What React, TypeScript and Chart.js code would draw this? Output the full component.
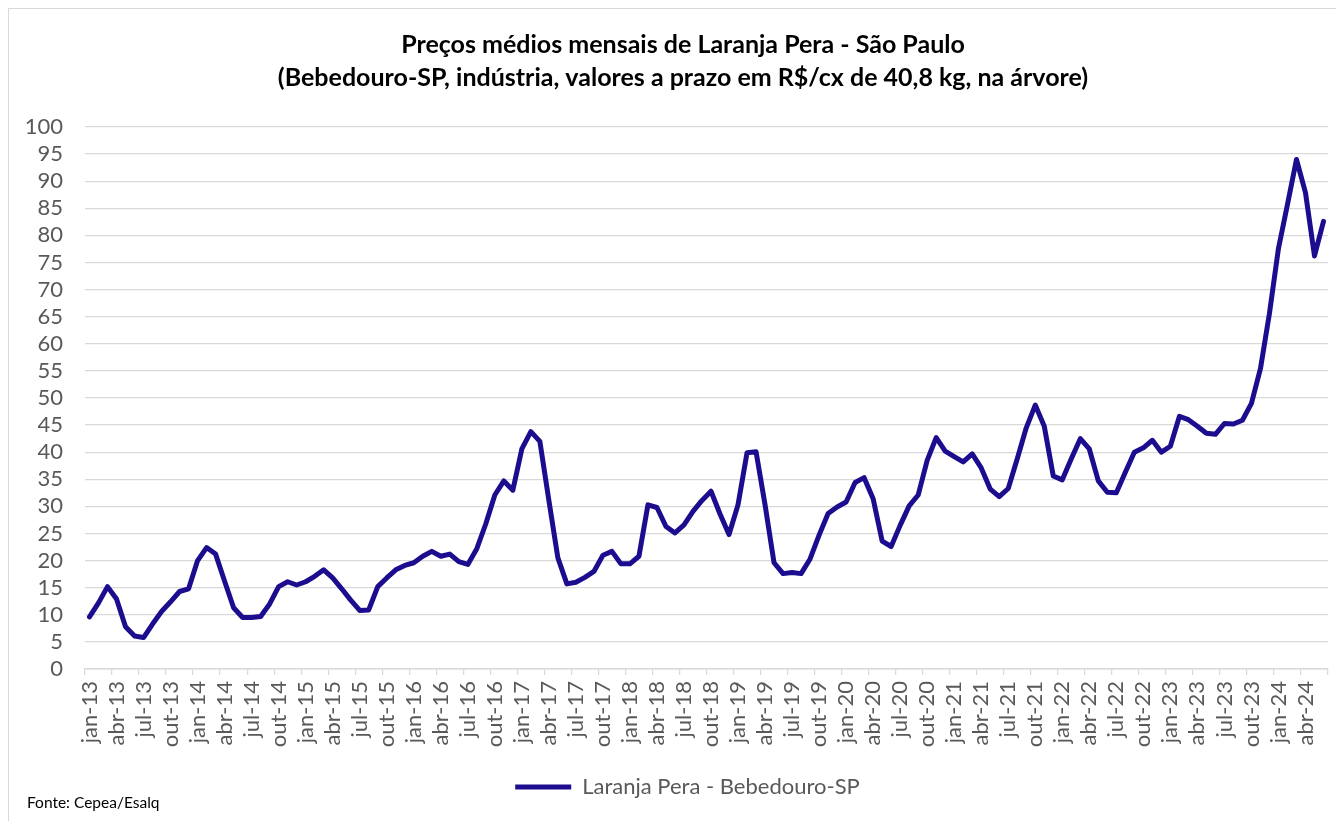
import { useEffect, useRef } from "react";
import { Chart, registerables } from "chart.js";

Chart.register(...registerables);

const TITLE_LINES = [
  "Preços médios mensais de Laranja Pera - São Paulo",
  "(Bebedouro-SP, indústria, valores a prazo em R$/cx de 40,8 kg, na árvore)",
];
const SOURCE_TEXT = "Fonte: Cepea/Esalq";
const SERIES_LABEL = "Laranja Pera - Bebedouro-SP";

const MONTHS = ["jan", "fev", "mar", "abr", "mai", "jun", "jul", "ago", "set", "out", "nov", "dez"];
const YEARS = ["13", "14", "15", "16", "17", "18", "19", "20", "21", "22", "23", "24"];

const prices2013 = [9.6, 12.2, 15.2, 12.9, 7.8, 6.1, 5.8, 8.3, 10.6, 12.4, 14.3, 14.8];
const prices2014 = [20.0, 22.4, 21.2, 16.2, 11.3, 9.5, 9.5, 9.7, 12.0, 15.2, 16.1, 15.5];
const prices2015 = [16.1, 17.1, 18.3, 16.8, 14.8, 12.7, 10.8, 10.9, 15.2, 16.8, 18.3, 19.1];
const prices2016 = [19.6, 20.8, 21.7, 20.8, 21.2, 19.8, 19.3, 22.2, 26.8, 32.1, 34.7, 33.0];
const prices2017 = [40.6, 43.8, 42.0, 31.1, 20.5, 15.7, 16.0, 16.9, 18.0, 21.0, 21.7, 19.4];
const prices2018 = [19.4, 20.8, 30.3, 29.8, 26.3, 25.1, 26.6, 29.1, 31.1, 32.8, 28.6, 24.8];
const prices2019 = [30.3, 39.9, 40.1, 30.3, 19.6, 17.6, 17.8, 17.6, 20.3, 24.7, 28.7, 29.9];
const prices2020 = [30.8, 34.4, 35.3, 31.4, 23.6, 22.6, 26.5, 30.1, 32.1, 38.5, 42.7, 40.2];
const prices2021 = [39.2, 38.2, 39.7, 37.1, 33.2, 31.8, 33.3, 38.8, 44.5, 48.7, 44.8, 35.6];
const prices2022 = [34.9, 38.8, 42.5, 40.6, 34.7, 32.6, 32.5, 36.3, 40.0, 40.8, 42.2, 40.0];
const prices2023 = [41.1, 46.6, 46.0, 44.8, 43.5, 43.3, 45.3, 45.2, 45.9, 49.0, 55.4, 65.6];
const prices2024 = [77.6, 85.7, 94.0, 87.9, 76.2, 82.6];

const prices = [
  ...prices2013, ...prices2014, ...prices2015, ...prices2016, ...prices2017, ...prices2018,
  ...prices2019, ...prices2020, ...prices2021, ...prices2022, ...prices2023, ...prices2024,
];

const categories = YEARS.flatMap((y) => MONTHS.map((m) => `${m}-${y}`)).slice(0, prices.length);

const Y_TICKS = { min: 0, max: 100, step: 5 };

const FONT = "Lato, 'Open Sans', sans-serif";
const LINE_COLOR = "#1c0d8f";
const GRID_COLOR = "#d9d9d9";
const TEXT_COLOR = "#595959";

const CANVAS_W = 1358;
const CANVAS_H = 812;
const LEGEND_SHIFT = 19;

const textPlugin = {
  id: "titleAndSource",
  afterLayout(chart: any) {
    if (chart.legend) {
      chart.legend.left += LEGEND_SHIFT;
      chart.legend.right += LEGEND_SHIFT;
    }
  },
  afterDraw(chart: any) {
    const ctx = chart.ctx as CanvasRenderingContext2D;
    ctx.save();
    ctx.fillStyle = "#000000";
    ctx.textAlign = "center";
    ctx.textBaseline = "middle";
    ctx.font = `bold 25px ${FONT}`;
    ctx.fillText(TITLE_LINES[0], 674, 36);
    ctx.fillText(TITLE_LINES[1], 674, 69);
    ctx.textAlign = "left";
    ctx.font = `15.5px ${FONT}`;
    ctx.fillText(SOURCE_TEXT, 18, 794);
    ctx.restore();
  },
};

export default function App() {
  const canvasRef = useRef<HTMLCanvasElement | null>(null);

  useEffect(() => {
    document.documentElement.style.overflow = "hidden";
    document.body.style.overflow = "hidden";
    const canvas = canvasRef.current;
    if (!canvas) return;
    const chart = new Chart(canvas, {
      type: "line",
      data: {
        labels: categories,
        datasets: [
          {
            label: SERIES_LABEL,
            data: prices,
            borderColor: LINE_COLOR,
            backgroundColor: LINE_COLOR,
            borderWidth: 5,
            pointRadius: 0,
            pointHoverRadius: 0,
            tension: 0,
            borderJoinStyle: "round",
            borderCapStyle: "round",
            fill: false,
          },
        ],
      },
      options: {
        responsive: false,
        animation: false,
        events: [],
        layout: { padding: { left: 0, right: 39, top: 118, bottom: 13 } },
        plugins: {
          title: { display: false },
          tooltip: { enabled: false },
          legend: {
            display: true,
            position: "bottom",
            labels: {
              usePointStyle: true,
              pointStyle: "line",
              pointStyleWidth: 56,
              color: TEXT_COLOR,
              padding: 10,
              font: { family: FONT, size: 22 },
            },
          },
        },
        scales: {
          x: {
            type: "category",
            offset: true,
            grid: {
              offset: true,
              drawOnChartArea: false,
              drawTicks: true,
              tickLength: 6,
              lineWidth: 1.25,
              color: (c: any) =>
                c.index === undefined || c.index % 3 === 0 ? GRID_COLOR : "rgba(0,0,0,0)",
            },
            border: { display: true, color: GRID_COLOR, width: 1.5 },
            ticks: {
              autoSkip: false,
              maxRotation: 90,
              minRotation: 90,
              padding: 6,
              color: TEXT_COLOR,
              font: { family: FONT, size: 22 },
              callback: (_v: any, i: number) => (i % 3 === 0 ? categories[i] : ""),
            },
            afterFit: (s: any) => {
              s.height = 97;
            },
          },
          y: {
            min: Y_TICKS.min,
            max: Y_TICKS.max,
            ticks: {
              stepSize: Y_TICKS.step,
              autoSkip: false,
              padding: 22,
              color: TEXT_COLOR,
              font: { family: FONT, size: 22 },
            },
            grid: { color: GRID_COLOR, lineWidth: 1.25, drawTicks: false },
            border: { display: false },
            afterFit: (s: any) => {
              s.width = 76;
            },
          },
        },
      },
      plugins: [textPlugin],
    });
    return () => chart.destroy();
  }, []);

  return (
    <div
      style={{
        border: "1px solid #d9d9d9",
        width: CANVAS_W,
        height: CANVAS_H,
        background: "#ffffff",
      }}
    >
      <canvas ref={canvasRef} width={CANVAS_W} height={CANVAS_H} style={{ display: "block" }} />
    </div>
  );
}
